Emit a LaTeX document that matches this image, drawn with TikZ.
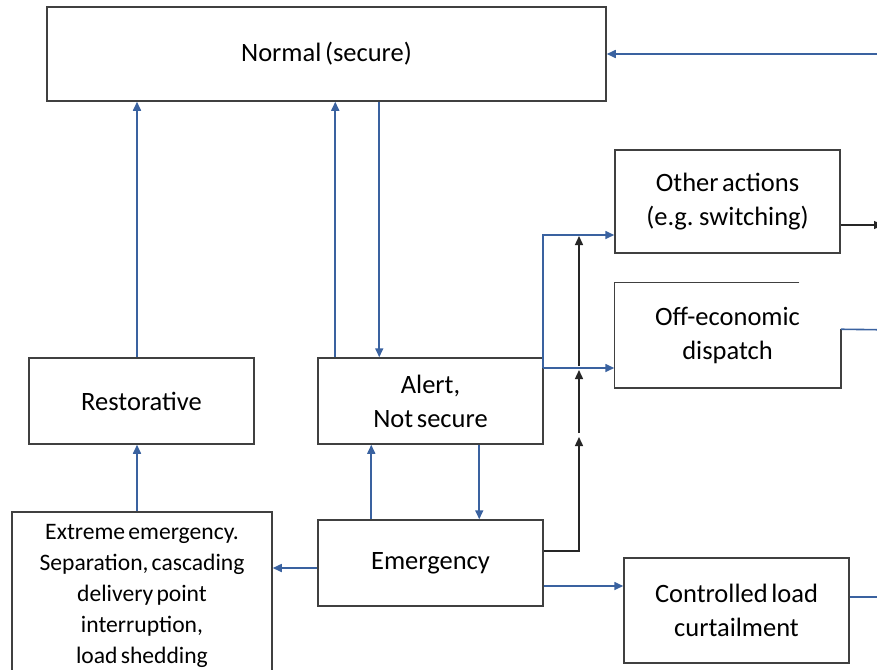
\documentclass[tikz,border=0pt]{standalone}
\usepackage{fontspec}
\setmainfont[WordSpace=0.6]{Carlito}
\usetikzlibrary{arrows.meta,calc}
\definecolor{bline}{HTML}{3A62A0}
\definecolor{bord}{HTML}{404040}
\begin{document}
\begin{tikzpicture}[x=1pt,y=-1pt,
  box/.style={draw=bord,line width=1.5pt,rectangle,inner sep=0pt,minimum width=225pt,align=center,
     font=\fontsize{26.5}{34}\selectfont},
  blu/.style={draw=bline,line width=1.6pt},
  blk/.style={draw=black!85,line width=1.4pt},
  tip/.style={-{Triangle[length=9pt,width=8pt]}}]
\clip (0,0) rectangle (877,669);
\fill[white] (0,0) rectangle (877,669);
% nodes
\node[box,minimum width=559pt,minimum height=94pt] (normal) at (326.5,54) {Normal (secure)};
\node[box,minimum height=103pt] (other) at (727.5,201.5) {Other actions\\(e.g. switching)};
\node[box,draw=none,minimum height=104pt] (off) at (727.5,335) {Off-economic\\dispatch};
\draw[bord,line width=1.5pt] ([xshift=185pt]off.north west) -- (off.north west) -- (off.south west) -- (off.south east) -- ([yshift=-47pt]off.north east);
\node[box,minimum height=86pt] (rest) at (141.5,401) {Restorative};
\node[box,minimum height=86pt] (alert) at (430.5,401) {Alert,\\Not secure};
\node[box,minimum height=86pt] (emerg) at (430.5,563) {Emergency};
\node[box,minimum height=105pt] (ctrl) at (736.5,610.5) {Controlled load\\curtailment};
\node[box,minimum width=260pt,minimum height=200pt,anchor=north] (ext) at (142,511) {};
\node[align=center,inner sep=0pt,font=\fontsize{23.6}{30.8}\selectfont] (exttext) at (142,596)
  {Extreme emergency.\\Separation, cascading\\delivery point\\interruption,\\load shedding};
% coordinates
\coordinate (r1) at (900,54);
\coordinate (r2) at (883,225);
\coordinate (r3) at (900,330);
\coordinate (r4) at (900,597);
\coordinate (b0) at (543,368);
\coordinate (b1) at (543,235);
\coordinate (j0) at (579,551);
\coordinate (j1) at (579,437);
\coordinate (j2) at (579,433);
\coordinate (j3) at (579,370);
\coordinate (j4) at (579,366);
\coordinate (j5) at (579,236);
% blue connectors
\draw[blu,tip] ([xshift=-4.5pt]rest.north) -- ([xshift=-4.5pt]rest.north |- normal.south);
\draw[blu,tip] ([xshift=18pt]alert.north west) -- ([xshift=18pt]alert.north west |- normal.south);
\draw[blu,tip] ([xshift=62pt]alert.north west |- normal.south) -- ([xshift=62pt]alert.north west);
\draw[blu,tip] ([xshift=162pt]alert.south west) -- ([xshift=162pt]alert.south west |- emerg.north);
\draw[blu,tip] ([xshift=54pt]emerg.north west) -- ([xshift=54pt]emerg.north west |- alert.south);
\draw[blu,tip] ([xshift=-4.5pt]rest.south |- ext.north) -- ([xshift=-4.5pt]rest.south);
\draw[blu,tip] ([yshift=-5pt]emerg.west) -- ([yshift=-5pt]emerg.west -| ext.east);
\draw[blu,tip] ([yshift=-23pt]emerg.east) -- ([yshift=-23pt]emerg.east -| ctrl.west);
\draw[blu,tip] (b0) -- (b0 -| off.west);
\draw[blu,tip] (b0) -- (b1) -- (b1 -| other.west);
\draw[blu,tip] (r1) -- (r1 -| normal.east);
\draw[blu] ([yshift=-47pt]off.north east) -- (r3);
\draw[blu] (ctrl.east |- r4) -- (r4);
% black connectors
\draw[blk,tip] ([yshift=12pt]emerg.east) -- (j0) -- (j1);
\draw[blk,tip] (j2) -- (j3);
\draw[blk,tip] (j4) -- (j5);
\draw[blk,tip] (other.east |- r2) -- (r2);
\end{tikzpicture}
\end{document}
